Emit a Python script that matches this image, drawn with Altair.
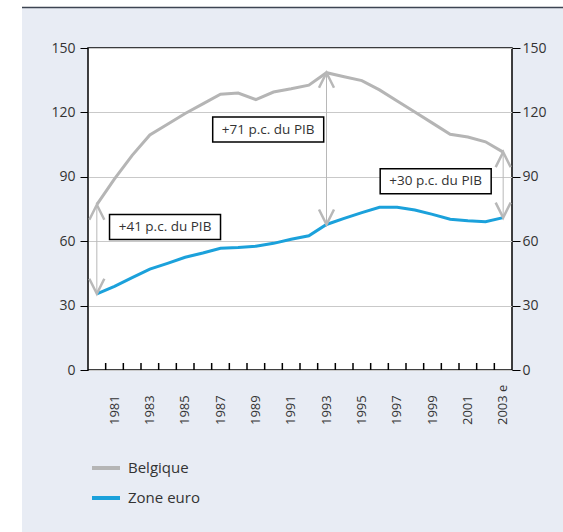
import altair as alt
import pandas as pd

# Public debt (% of GDP): Belgium vs. euro area, 1980-2003 (2003 estimated)
years = list(range(1980, 2004))
belgique = [77.0, 89.0, 100.0, 109.5, 114.5, 119.5, 124.0, 128.5, 129.0, 126.0,
            129.5, 131.0, 132.7, 138.5, 136.6, 134.8, 130.5, 125.3, 120.2, 115.0,
            109.8, 108.5, 106.3, 101.5]
zone_euro = [35.5, 39.0, 43.0, 47.0, 49.7, 52.5, 54.5, 56.7, 57.1, 57.7,
             59.0, 60.9, 62.5, 67.8, 70.6, 73.3, 75.8, 75.8, 74.5, 72.5,
             70.2, 69.5, 69.1, 71.0]
series_names = ["Belgique", "Zone euro"]
series_colors = ["#b5b5b5", "#1ba1db"]

y_ticks = [0, 30, 60, 90, 120, 150]
x_label_years = list(range(1981, 2004, 2))
x_label_text = [str(y) for y in x_label_years[:-1]] + ["2003 e"]

# Gap annotations: year of the double arrow, label text and label anchor
gap_years = [1980, 1993, 2003]
gap_labels = ["+41 p.c. du PIB", "+71 p.c. du PIB", "+30 p.c. du PIB"]
label_x = [1983.86, 1989.7, 1999.18]
label_y = [66.6, 112.0, 87.9]

W, H = 424, 322
FONT = "Open Sans"
TXT = "#333333"
ARROW = "#b8b8b8"

lines_df = pd.DataFrame({
    "year": years * 2,
    "value": belgique + zone_euro,
    "series": [series_names[0]] * len(years) + [series_names[1]] * len(years),
})
gaps_df = pd.DataFrame({
    "year": gap_years,
    "low": [zone_euro[years.index(y)] for y in gap_years],
    "high": [belgique[years.index(y)] for y in gap_years],
    "text": gap_labels,
    "lx": label_x,
    "ly": label_y,
})
edges_df = pd.DataFrame({"edge": [y + 0.5 for y in years[:-1]]})
xlab_df = pd.DataFrame({"year": x_label_years, "label": x_label_text})
one = pd.DataFrame({"k": [0]})

xscale = alt.Scale(domain=[1979.5, 2003.5], nice=False, zero=False)
yscale = alt.Scale(domain=[0, 150], nice=False, zero=True)


def y_axis(orient, grid, pad):
    return alt.Axis(
        orient=orient, values=y_ticks, grid=grid, gridColor="#c9c9c9",
        gridWidth=1, tickSize=8, tickColor="black", tickWidth=1,
        labelPadding=pad, domain=False, title=None, labelFont=FONT,
        labelFontSize=14, labelColor=TXT,
    )


# Page framing: white margin on the left/top and a dark rule above the panel
strip_left = alt.Chart(one).mark_rect(color="white").encode(
    x=alt.value(-88), x2=alt.value(-66), y=alt.value(-48), y2=alt.value(H + 162)
)
strip_top = alt.Chart(one).mark_rect(color="white").encode(
    x=alt.value(-66), x2=alt.value(W + 51), y=alt.value(-48), y2=alt.value(-41)
)
top_line = alt.Chart(one).mark_rule(color="#3d4452", strokeWidth=1.5).encode(
    x=alt.value(-66), x2=alt.value(W + 51), y=alt.value(-40.5)
)

lines = alt.Chart(lines_df).mark_line(strokeWidth=3).encode(
    x=alt.X("year:Q", scale=xscale, axis=None),
    y=alt.Y("value:Q", scale=yscale, axis=y_axis("left", True, 5)),
    color=alt.Color(
        "series:N",
        scale=alt.Scale(domain=series_names, range=series_colors),
        legend=alt.Legend(
            title=None, orient="none", legendX=2, legendY=404,
            symbolType="stroke", symbolStrokeWidth=4, symbolSize=784,
            labelFont=FONT, labelFontSize=15, labelColor=TXT,
            labelOffset=6, rowPadding=6, padding=0,
        ),
    ),
)

gap_rules = alt.Chart(gaps_df).mark_rule(color=ARROW, strokeWidth=1).encode(
    x=alt.X("year:Q", scale=xscale, axis=None),
    y=alt.Y("low:Q", scale=yscale, axis=y_axis("right", False, 2)),
    y2="high:Q",
)

head_up = alt.Chart(gaps_df).mark_point(
    shape="M-1,2L0,0L1,2", size=225, filled=False, stroke=ARROW,
    strokeWidth=2.5, opacity=1,
).encode(
    x=alt.X("year:Q", scale=xscale, axis=None),
    y=alt.Y("high:Q", scale=yscale, axis=None),
)
head_down = alt.Chart(gaps_df).mark_point(
    shape="M-1,-2L0,0L1,-2", size=225, filled=False, stroke=ARROW,
    strokeWidth=2.5, opacity=1,
).encode(
    x=alt.X("year:Q", scale=xscale, axis=None),
    y=alt.Y("low:Q", scale=yscale, axis=None),
)

boxes = alt.Chart(gaps_df).mark_point(
    shape="M-1,-0.225H1V0.225H-1Z", size=111 ** 2, filled=True,
    fill="white", stroke="black", strokeWidth=1.5, opacity=1,
).encode(
    x=alt.X("lx:Q", scale=xscale, axis=None),
    y=alt.Y("ly:Q", scale=yscale, axis=None),
)
box_text = alt.Chart(gaps_df).mark_text(
    font=FONT, fontSize=13.5, color=TXT, align="center", baseline="middle",
).encode(
    x=alt.X("lx:Q", scale=xscale, axis=None),
    y=alt.Y("ly:Q", scale=yscale, axis=None),
    text="text:N",
)

# Inward tick marks on the year axis, at the boundaries between years
year_ticks = alt.Chart(edges_df).mark_rule(color="black", strokeWidth=1.5).encode(
    x=alt.X("edge:Q", scale=xscale, axis=None),
    y=alt.value(H), y2=alt.value(H - 7),
)

# Vertical year labels, centred on each odd year
year_labels = alt.Chart(xlab_df).mark_text(
    font=FONT, fontSize=13, color=TXT, angle=270, align="left",
    baseline="middle",
).encode(
    x=alt.X("year:Q", scale=xscale, axis=None),
    y=alt.value(H + 55),
    text="label:N",
)

chart = alt.layer(
    strip_left, strip_top, top_line, lines, gap_rules, head_up, head_down,
    boxes, box_text, year_ticks, year_labels,
).resolve_scale(y="independent").properties(
    width=W, height=H,
    autosize=alt.AutoSizeParams(type="none"),
    padding={"left": 88, "top": 48, "right": 51, "bottom": 162},
    background="#e8ecf4",
).configure_view(
    fill="white", stroke="black", strokeWidth=1.5,
)

chart.save("out.html", embed_options={"renderer": "svg", "actions": False})
